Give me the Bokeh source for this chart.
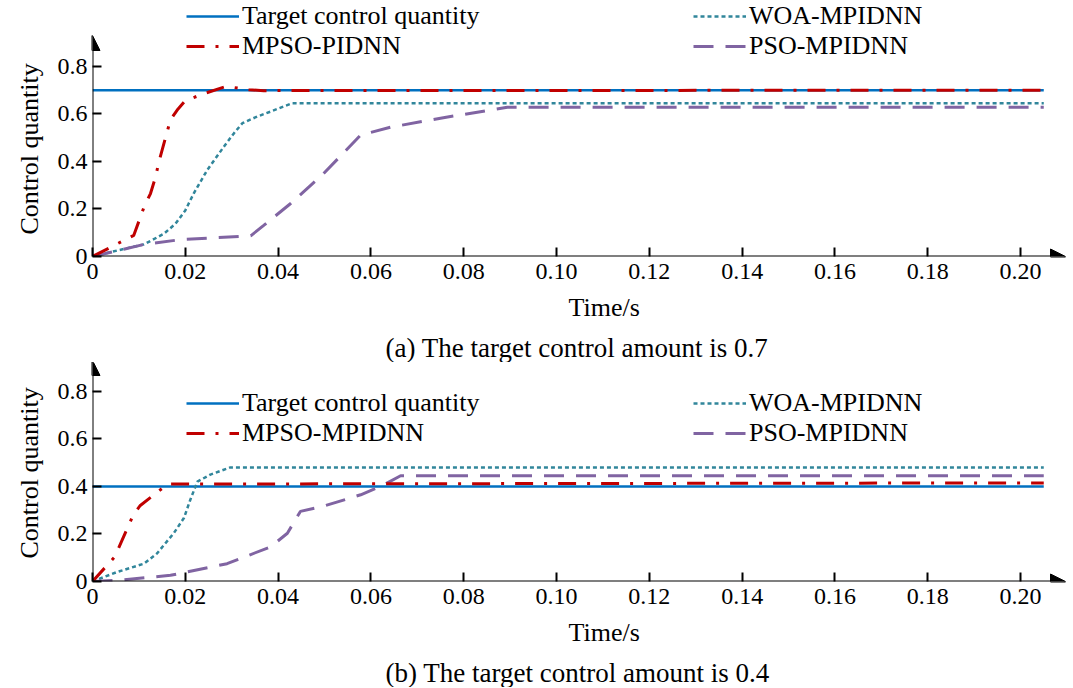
from bokeh.plotting import figure
from bokeh.models import (Legend, LegendItem, Arrow, NormalHead, FixedTicker,
                          PrintfTickFormatter, Title)
from bokeh.layouts import column
from bokeh.embed import file_html
from bokeh.resources import INLINE

# ---------------- data ----------------
x_ticks = [0, 0.02, 0.04, 0.06, 0.08, 0.10, 0.12, 0.14, 0.16, 0.18, 0.20]
y_ticks = [0, 0.2, 0.4, 0.6, 0.8]

# panel (a): target 0.7
a_target_t = [0, 0.205]
a_target_v = [0.7, 0.7]
a_mpso_t = [0, 0.0089, 0.0111, 0.0125, 0.0136, 0.0143, 0.0168, 0.0184, 0.0200,
            0.0240, 0.0287, 0.0305, 0.0337, 0.0369, 0.205]
a_mpso_v = [0, 0.089, 0.208, 0.265, 0.335, 0.398, 0.575, 0.620, 0.656,
            0.685, 0.715, 0.711, 0.702, 0.698, 0.70]
a_woa_t = [0, 0.0053, 0.0111, 0.0154, 0.0179, 0.0200, 0.0218, 0.0247, 0.0283,
           0.0305, 0.0323, 0.0355, 0.0384, 0.0430, 0.205]
a_woa_v = [0, 0.025, 0.051, 0.096, 0.138, 0.194, 0.265, 0.363, 0.462,
           0.519, 0.561, 0.589, 0.610, 0.645, 0.645]
a_pso_t = [0, 0.0111, 0.0190, 0.0341, 0.0369, 0.0427, 0.0498, 0.0578, 0.0642,
           0.0750, 0.0894, 0.205]
a_pso_v = [0, 0.051, 0.071, 0.087, 0.131, 0.223, 0.349, 0.511, 0.544,
           0.582, 0.628, 0.628]

# panel (b): target 0.4
b_target_t = [0, 0.205]
b_target_v = [0.4, 0.4]
b_mpso_t = [0, 0.0048, 0.0088, 0.0103, 0.0141, 0.0162, 0.205]
b_mpso_v = [0, 0.104, 0.281, 0.320, 0.378, 0.41, 0.415]
b_woa_t = [0, 0.0053, 0.0111, 0.0139, 0.0175, 0.0197, 0.0211, 0.0226, 0.0254,
           0.0297, 0.205]
b_woa_v = [0, 0.040, 0.075, 0.118, 0.203, 0.267, 0.345, 0.42, 0.45, 0.48, 0.48]
b_pso_t = [0, 0.0067, 0.0168, 0.0290, 0.0384, 0.0420, 0.0448, 0.0498, 0.0578,
           0.0621, 0.0664, 0.205]
b_pso_v = [0, 0.007, 0.026, 0.075, 0.146, 0.203, 0.295, 0.317, 0.365,
           0.40, 0.445, 0.445]

label_target = "Target control quantity"
label_woa = "WOA-MPIDNN"
label_pso = "PSO-MPIDNN"
label_mpso_a = "MPSO-PIDNN"
label_mpso_b = "MPSO-MPIDNN"
x_title = "Time/s"
y_title = "Control quantity"
caption_a = "(a) The target control amount is 0.7"
caption_b = "(b) The target control amount is 0.4"

# ---------------- styling ----------------
FONT = "Liberation Serif"
C_BLUE = "#0070C0"
C_RED = "#C00000"
C_TEAL = "#31869B"
C_PURPLE = "#8064A2"
FRAME_W = 974
X_END = 0.2099
ARROW_TOP = 0.93          # y-axis arrow tip
PX_PER_UNIT = 221 / 0.93  # vertical scale shared by both panels


def panel(target, mpso, woa, pso, mpso_label, caption, frame_h, top_border,
          bottom_border, leg_y, ylab_offset):
    y_end = frame_h / PX_PER_UNIT
    p = figure(frame_width=FRAME_W, frame_height=frame_h, x_range=(0, X_END),
               y_range=(0, y_end), output_backend="svg", toolbar_location=None,
               min_border_left=92, min_border_right=0,
               min_border_top=top_border, min_border_bottom=bottom_border)
    p.xgrid.visible = False
    p.ygrid.visible = False
    p.outline_line_color = None
    p.background_fill_color = "white"
    p.border_fill_color = "white"

    for ax in (p.xaxis[0], p.yaxis[0]):
        ax.axis_line_color = None
        ax.major_tick_in = 9
        ax.major_tick_out = 0
        ax.minor_tick_line_color = None
        ax.major_tick_line_width = 2
        ax.major_tick_line_color = "black"
        ax.major_label_text_font = FONT
        ax.major_label_text_font_size = "24px"
        ax.major_label_text_color = "black"
    p.xaxis.ticker = FixedTicker(ticks=x_ticks)
    p.xaxis.formatter = PrintfTickFormatter(format="%.2f")
    p.xaxis.major_label_overrides = {0: "0"}
    p.xaxis.major_label_standoff = 7
    p.yaxis.ticker = FixedTicker(ticks=y_ticks)
    p.yaxis.formatter = PrintfTickFormatter(format="%.1f")
    p.yaxis.major_label_overrides = {0: "0"}
    p.yaxis.major_label_standoff = 5

    p.add_layout(Title(text=y_title, align="left", offset=ylab_offset, text_font=FONT,
                       text_font_size="26px", text_font_style="normal",
                       text_color="black", standoff=22), "left")

    r_t = p.line(target[0], target[1], line_color=C_BLUE, line_width=2.5)
    r_w = p.line(woa[0], woa[1], line_color=C_TEAL, line_width=2.5, line_dash="4 3")
    r_p = p.line(pso[0], pso[1], line_color=C_PURPLE, line_width=3, line_dash="20 12")
    r_m = p.line(mpso[0], mpso[1], line_color=C_RED, line_width=3, line_dash="18 11 3 11")

    # axis arrows
    p.add_layout(Arrow(end=NormalHead(size=15, fill_color="black", line_color="black"),
                       x_start=0, y_start=0, x_end=X_END * 0.999, y_end=0,
                       line_color="black", line_width=2))
    p.add_layout(Arrow(end=NormalHead(size=15, fill_color="black", line_color="black"),
                       x_start=0, y_start=0, x_end=0, y_end=ARROW_TOP,
                       line_color="black", line_width=2))

    def mk_legend(items, x):
        return Legend(items=items, location=(x, leg_y), padding=0, margin=0, spacing=0,
                      glyph_width=53, glyph_height=28, label_height=28, label_standoff=3,
                      label_text_font=FONT, label_text_font_size="26px",
                      label_text_color="black", border_line_color=None,
                      background_fill_alpha=0)

    p.add_layout(mk_legend([LegendItem(label=label_target, renderers=[r_t]),
                            LegendItem(label=mpso_label, renderers=[r_m])], 94))
    p.add_layout(mk_legend([LegendItem(label=label_woa, renderers=[r_w]),
                            LegendItem(label=label_pso, renderers=[r_p])], 601))

    p.add_layout(Title(text=x_title, align="left", offset=476, text_font=FONT,
                       text_font_size="26px", text_font_style="normal",
                       text_color="black", standoff=18), "below")
    p.add_layout(Title(text=caption, align="left", offset=293, text_font=FONT,
                       text_font_size="27px", text_font_style="normal",
                       text_color="black", standoff=0), "below")
    return p


p1 = panel((a_target_t, a_target_v), (a_mpso_t, a_mpso_v), (a_woa_t, a_woa_v),
           (a_pso_t, a_pso_v), label_mpso_a, caption_a, 256, 0, 106, 195, 22)
p2 = panel((b_target_t, b_target_v), (b_mpso_t, b_mpso_v), (b_woa_t, b_woa_v),
           (b_pso_t, b_pso_v), label_mpso_b, caption_b, 219, 0, 104, 133, 23)

layout = column(p1, p2, spacing=0)
open("out.html", "w").write(file_html(layout, INLINE))
